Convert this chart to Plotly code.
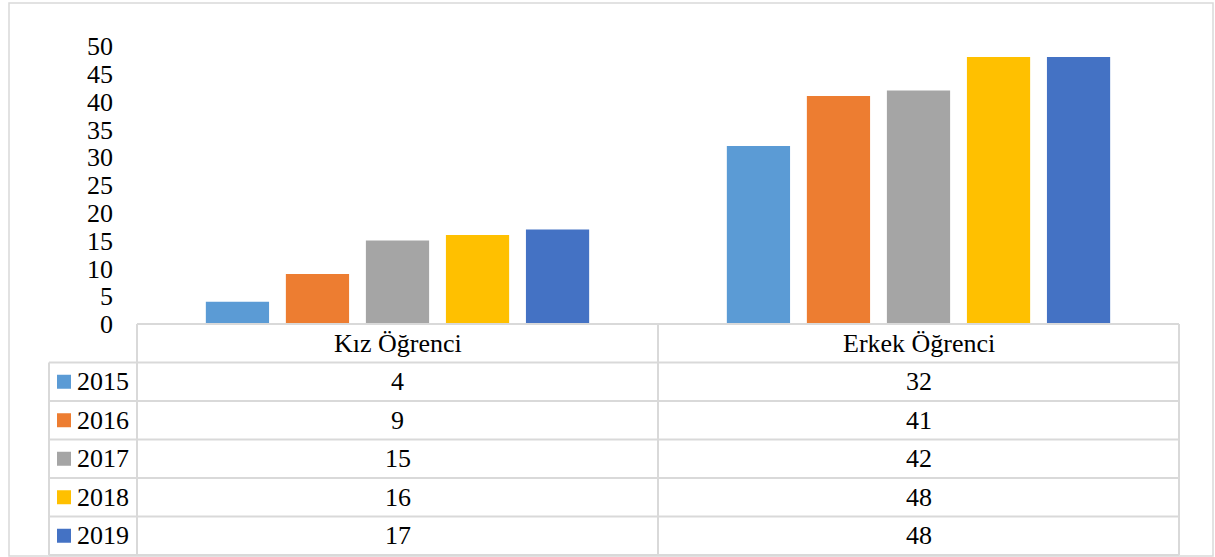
import plotly.graph_objects as go

categories = ["Kız Öğrenci", "Erkek Öğrenci"]
years = ["2015", "2016", "2017", "2018", "2019"]
values = {
    "2015": [4, 32],
    "2016": [9, 41],
    "2017": [15, 42],
    "2018": [16, 48],
    "2019": [17, 48],
}
colors = ["#5B9BD5", "#ED7D31", "#A5A5A5", "#FFC000", "#4472C4"]

W, H = 1215, 557
L, R, T, B = 137, 1179, 46, 324  # plot area in pixels
FONT = "Times New Roman, Liberation Serif, DejaVu Serif, serif"
FS = 26
GRID = "#d9d9d9"

def xp(px):
    return (px - L) / (R - L)

def yp(py):
    return (B - py) / (B - T)

fig = go.Figure()
for y, c in zip(years, colors):
    fig.add_trace(go.Bar(x=categories, y=values[y], name=y, marker_color=c,
                         marker_line_width=0))

shapes = []
annotations = []

def line(x0, y0, x1, y1, w=2):
    shapes.append(dict(type="line", xref="paper", yref="paper",
                       x0=xp(x0), y0=yp(y0), x1=xp(x1), y1=yp(y1),
                       line=dict(color=GRID, width=w)))

# outer chart border
shapes.append(dict(type="rect", xref="paper", yref="paper",
                   x0=xp(9), y0=yp(3), x1=xp(1213), y1=yp(556),
                   line=dict(color=GRID, width=1.5)))

# table geometry
row_y = [324, 362.5, 401, 439.5, 478, 516.5, 555]
col_x = [49, 137, 658, 1179]
line(137, row_y[0], 1179, row_y[0])
for yy in row_y[1:]:
    line(49, yy, 1179, yy)
line(137, row_y[0], 137, row_y[-1])
line(658, row_y[0], 658, row_y[-1])
line(1179, row_y[0], 1179, row_y[-1])
line(49, row_y[1], 49, row_y[-1])

col_centers = [(col_x[1] + col_x[2]) / 2, (col_x[2] + col_x[3]) / 2]
hy = (row_y[0] + row_y[1]) / 2
for cat, cx in zip(categories, col_centers):
    annotations.append(dict(xref="paper", yref="paper", x=xp(cx), y=yp(hy),
                            text=cat, showarrow=False, xanchor="center", yanchor="middle",
                            font=dict(family=FONT, size=FS, color="#000")))

for i, (yname, c) in enumerate(zip(years, colors)):
    cy = (row_y[i + 1] + row_y[i + 2]) / 2
    shapes.append(dict(type="rect", xref="paper", yref="paper",
                       x0=xp(57), x1=xp(71), y0=yp(cy - 7), y1=yp(cy + 7),
                       fillcolor=c, line=dict(width=0)))
    annotations.append(dict(xref="paper", yref="paper", x=xp(75), y=yp(cy),
                            text=yname, showarrow=False, xanchor="left", yanchor="middle",
                            font=dict(family=FONT, size=FS, color="#000")))
    for j, cx in enumerate(col_centers):
        annotations.append(dict(xref="paper", yref="paper", x=xp(cx), y=yp(cy),
                                text=str(values[yname][j]), showarrow=False,
                                xanchor="center", yanchor="middle",
                                font=dict(family=FONT, size=FS, color="#000")))

fig.update_layout(
    width=W, height=H,
    margin=dict(l=L, r=W - R, t=T, b=H - B, pad=0),
    paper_bgcolor="white", plot_bgcolor="white",
    barmode="group", bargap=0.232, bargroupgap=0.21,
    showlegend=False,
    shapes=shapes, annotations=annotations,
    font=dict(family=FONT, size=FS, color="#000"),
)
fig.update_xaxes(showticklabels=False, showgrid=False, showline=False, zeroline=False,
                 range=[-0.5, 1.5])
fig.update_yaxes(range=[0, 50], tickvals=list(range(0, 51, 5)), showgrid=False,
                 showline=False, zeroline=False, ticks="", ticklabelstandoff=23,
                 tickfont=dict(family=FONT, size=FS, color="#000"))

fig.write_html("out.html", config={"displayModeBar": False},
               post_script="document.body.style.margin='0';document.body.style.overflow='hidden';")
